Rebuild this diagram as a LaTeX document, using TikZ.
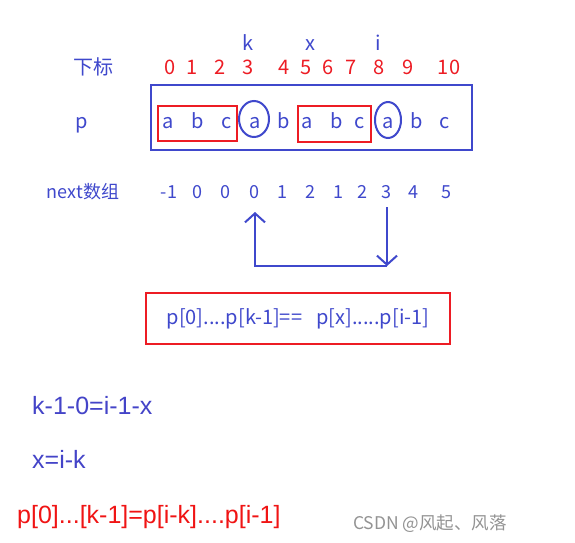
\documentclass[tikz,border=0pt]{standalone}
\usepackage{fontspec}
\setmainfont{Noto Sans CJK SC}
\newfontfamily\arialf{Liberation Sans}
\usetikzlibrary{arrows.meta}
\definecolor{pblue}{RGB}{63,72,204}
\definecolor{pred}{RGB}{237,28,36}
\definecolor{tblue}{RGB}{68,68,200}
\definecolor{tred}{RGB}{240,20,20}
\tikzset{
  lbl/.style={anchor=base, inner sep=0pt, text=pblue, font=\fontsize{20}{22}\selectfont},
  idx/.style={anchor=base, inner sep=0pt, text=pred, font=\fontsize{20}{22}\selectfont},
  chr/.style={anchor=base, inner sep=0pt, text=pblue, font=\fontsize{20}{22}\selectfont},
  nxt/.style={anchor=base, inner sep=0pt, text=pblue, font=\fontsize{18}{20}\selectfont},
  bluebox/.style={draw=pblue, line width=2.5pt},
  redbox/.style={draw=pred, line width=2.5pt},
  ring/.style={draw=pblue, line width=2pt},
  hand/.style={draw=pblue, line width=2.2pt, -{Straight Barb[length=9pt,width=20pt,line width=2pt]}},
  eqn/.style={anchor=base west, inner sep=0pt, font=\arialf\fontsize{25}{28}\selectfont},
}
\begin{document}
\begin{tikzpicture}[x=1pt,y=-1pt]
\useasboundingbox[fill=white] (0,0) rectangle (575,542);
% pointer labels
\node[lbl] (lk) at (248,50) {k};
\node[lbl] (lx) at (310,50) {x};
\node[lbl] (li) at (378,50) {i};
% index row
\node[lbl, anchor=base] (xb) at (93,74) {下标};
\foreach \n/\x in {0/170,1/192,2/220,3/248,4/284,5/306,6/328,7/351,8/379,9/408,10/449}
  \node[idx] (d\n) at (\x,74) {\n};
% p row
\node[lbl] (pl) at (82,128) {p};
\draw[bluebox] (151,85) rectangle (472,150);
\foreach \n/\x/\c in {0/168/a,1/198/b,2/227/c,3/255/a,4/284/b,5/307/a,6/337/b,7/360/c,8/388/a,9/417/b,10/445/c}
  \node[chr] (c\n) at (\x,128) {\c};
\draw[redbox] (158,106) rectangle (237,141);
\draw[redbox] (298,106) rectangle (371,142);
\draw[ring] (254,119) ellipse [x radius=15, y radius=18];
\draw[ring] (388,120) ellipse [x radius=13, y radius=18];
% next row
\node[nxt] (nl) at (83,198) {next数组};
\foreach \n/\x/\v in {0/169/-1,1/197/0,2/225/0,3/254/0,4/282/1,5/310/2,6/338/1,7/362/2,8/386/3,9/413/4,10/446/5}
  \node[nxt] (n\n) at (\x,198) {\v};
% connector
\coordinate (corner) at (387,266);
\draw[hand] (387,207) -- (corner);
\draw[hand] (corner) -- (255,266) -- (255,212);
% equality box
\node[draw=pred, line width=2.5pt, minimum width=304pt, minimum height=51pt, inner sep=0pt,
      text=pblue, font=\fontsize{20}{22}\selectfont] (eqbox) at (298,318.5)
  {\raisebox{-1pt}{p[0]....p[k-1]==\hspace{0.7em}p[x].....p[i-1]}};
% derivation
\node[eqn, text=tblue] (e1) at (32,414) {k-1-0=i-1-x};
\node[eqn, text=tblue] (e2) at (32,468) {x=i-k};
\node[eqn, text=tred] (e3) at (17,523) {p[0]...[k-1]=p[i-k]....p[i-1]};
% watermark
\node[anchor=base west, inner sep=0pt, text=gray!85, font=\fontsize{17.5}{19}\selectfont] (wm) at (353,529) {CSDN @风起、风落};
\end{tikzpicture}
\end{document}
